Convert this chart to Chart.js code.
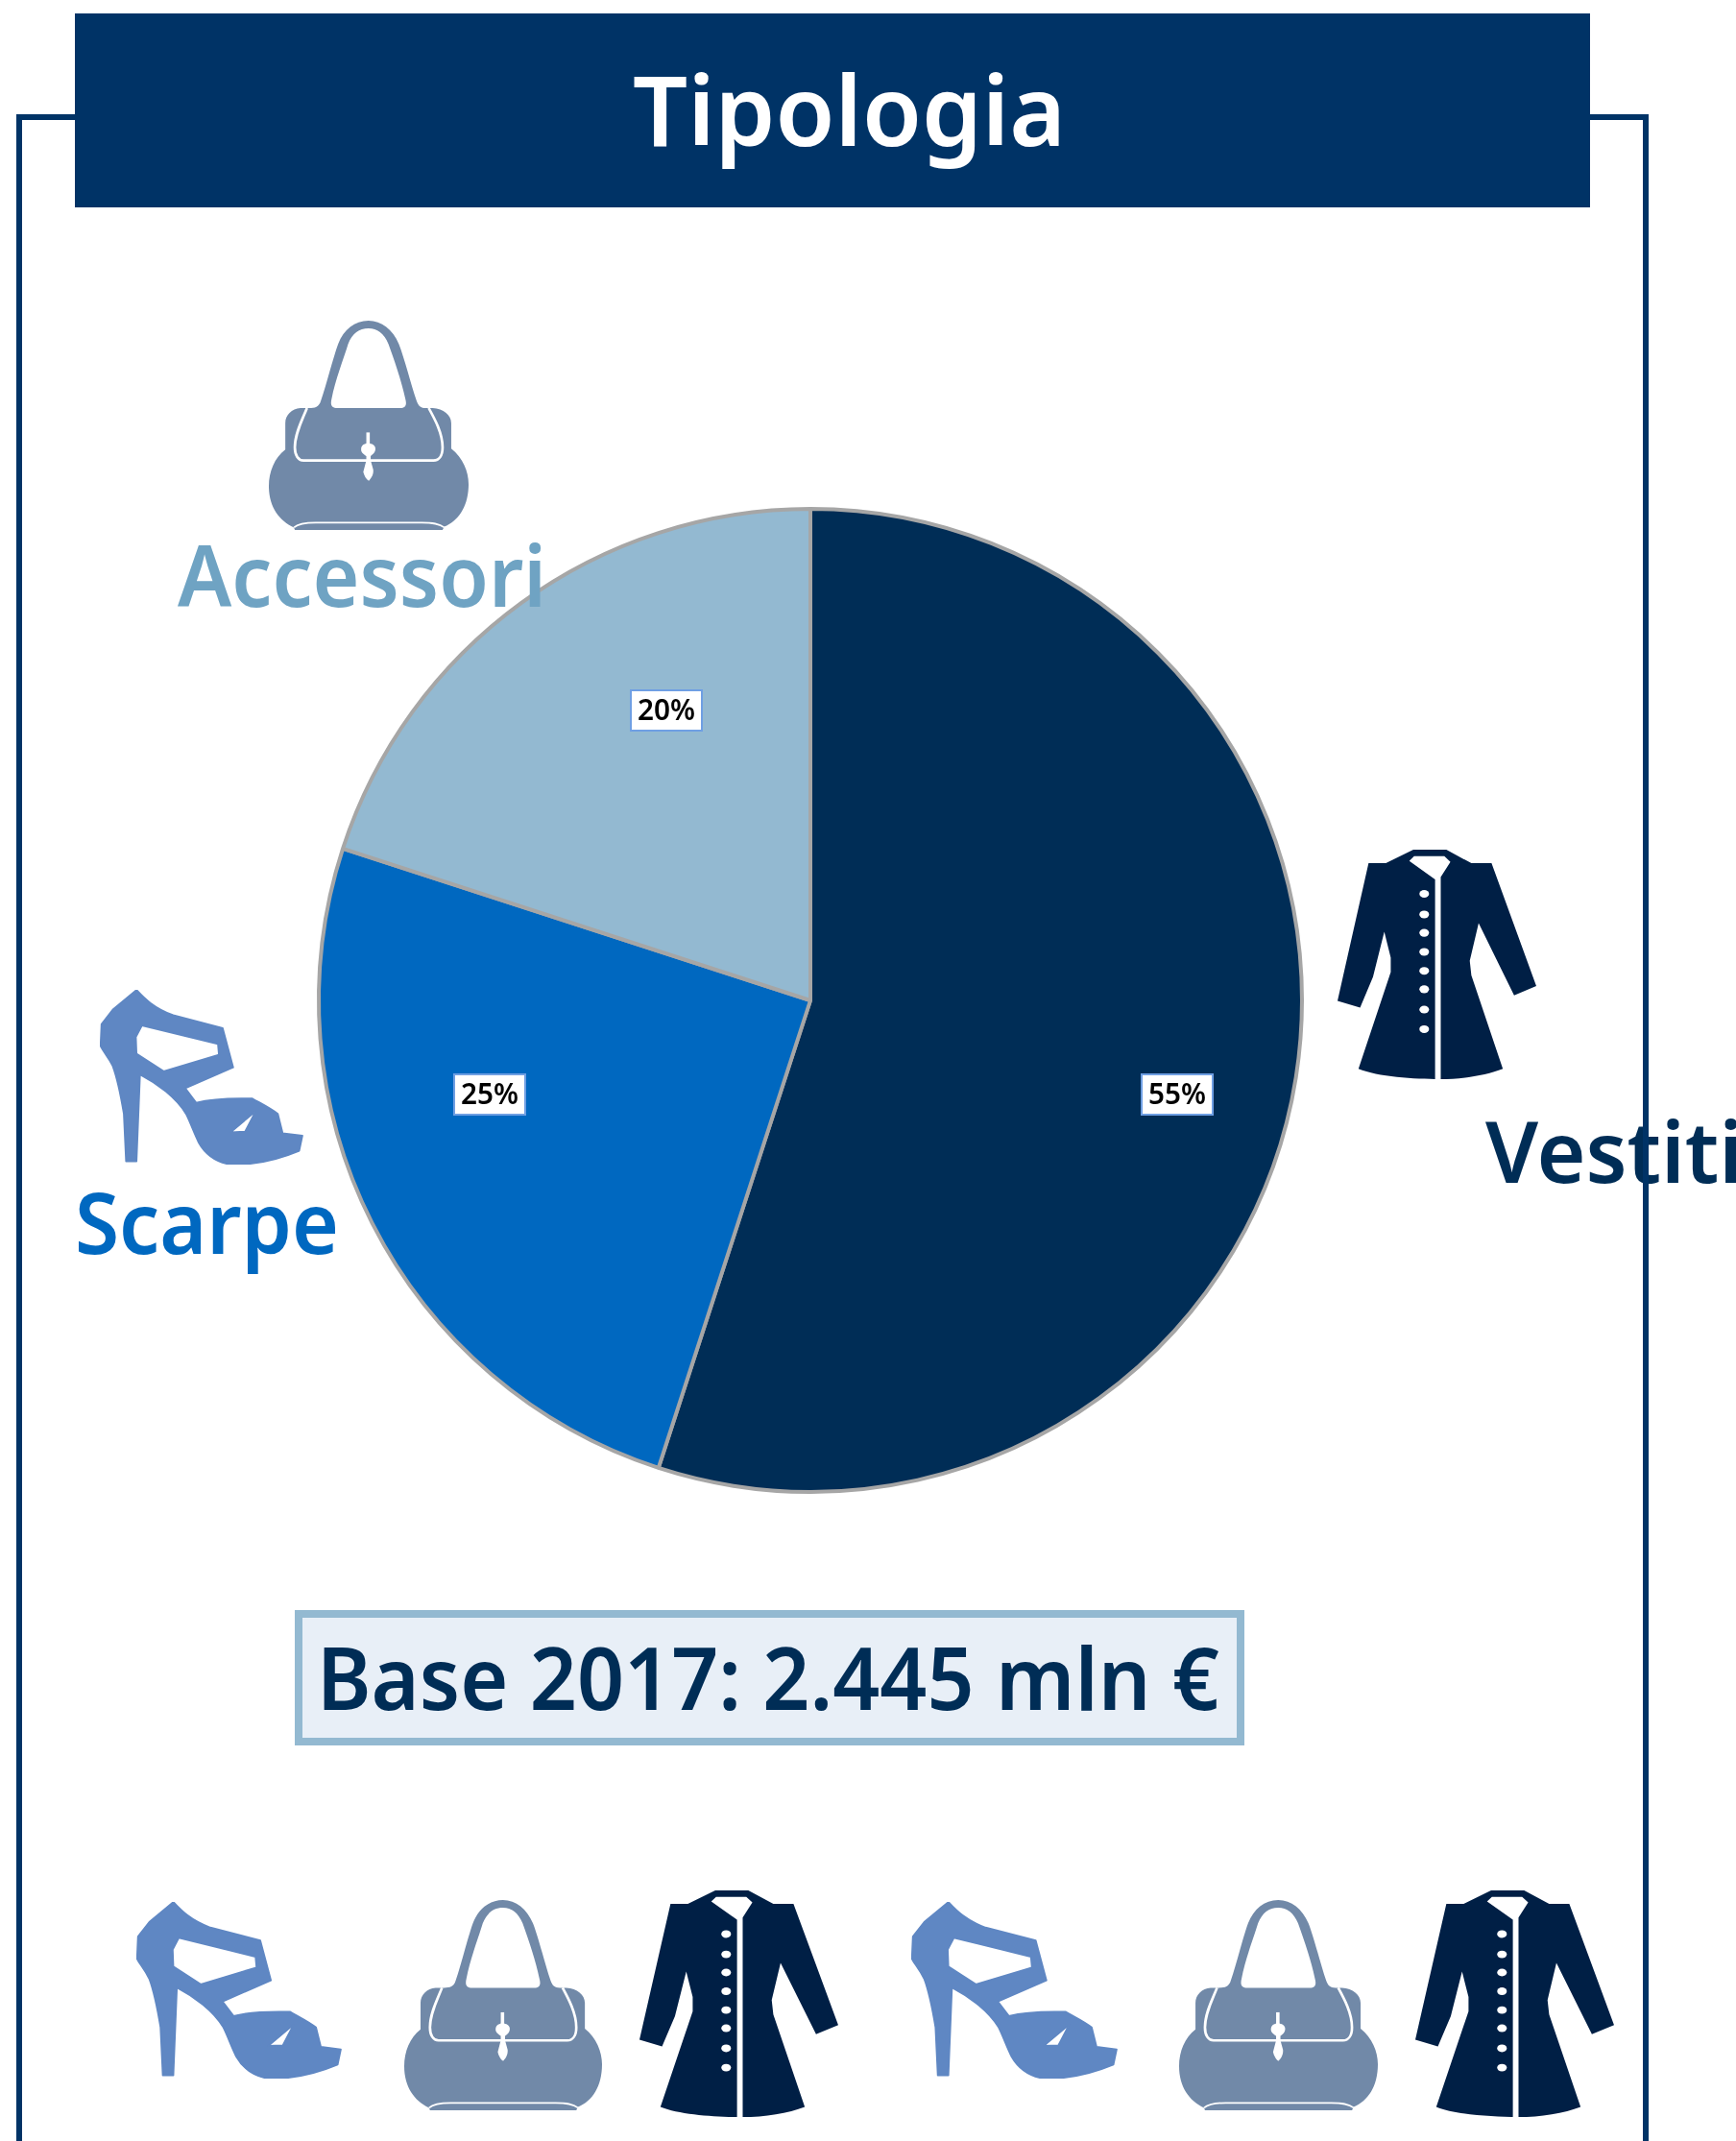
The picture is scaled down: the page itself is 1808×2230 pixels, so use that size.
<!DOCTYPE html>
<html lang="it">
<head>
<meta charset="utf-8">
<title>Tipologia</title>
<script src="https://cdn.jsdelivr.net/npm/chart.js@4"></script>
<style>
html,body{margin:0;padding:0;background:#fff;width:1808px;height:2230px;overflow:hidden}
#wrap{position:relative;width:1808px;height:2230px;overflow:hidden}
canvas,svg{position:absolute;left:0;top:0}
</style>
</head>
<body>
<div id="wrap">
<canvas id="c" width="1808" height="2230"></canvas>
<svg id="s" width="1808" height="2230" viewBox="0 0 1808 2230" xmlns="http://www.w3.org/2000/svg">
<defs>
<symbol id="bag" viewBox="452 793 461 515" preserveAspectRatio="none">
<path fill="#7189a8" fill-rule="evenodd" d="M682 793C650 793 625 815 612 850C600 885 585 950 572 990C568 1005 558 1008 545 1008L525 1008C505 1010 490 1025 490 1045L490 1110C465 1130 452 1165 452 1200C452 1250 475 1285 510 1302L512 1308L853 1308L857 1300C890 1285 913 1250 913 1195C913 1165 900 1130 873 1108L873 1045C873 1025 855 1010 830 1008L815 1008C802 1008 797 1002 793 990C780 950 765 885 752 850C738 815 712 793 682 793ZM682 812C660 812 645 825 635 850C625 885 605 940 597 985C593 1002 598 1008 610 1008L755 1008C768 1008 771 1000 767 985C758 940 740 885 728 850C718 825 702 812 682 812Z"/>
<path fill="none" stroke="#fff" stroke-width="6" d="M540 1008C530 1035 512 1070 512 1105C512 1125 520 1137 532 1137L832 1137C845 1137 853 1125 853 1105C853 1070 835 1035 821 1008"/>
<path fill="none" stroke="#fff" stroke-width="8" d="M681 1068L681 1100"/>
<path fill="#fff" d="M681 1095C672 1095 665 1100 665 1110C665 1118 672 1122 677 1126L677 1137L670 1165C672 1175 678 1185 683 1187C689 1180 694 1172 693 1160L687 1137L687 1126C692 1122 698 1118 698 1108C698 1100 690 1095 681 1095Z"/>
<path fill="none" stroke="#fff" stroke-width="4" d="M510 1302C520 1292 540 1290 560 1290L805 1290C830 1290 845 1292 857 1302"/>
</symbol>
<symbol id="shoe" viewBox="130 93 638 545" preserveAspectRatio="none">
<path fill="#5f87c3" stroke="#5f87c3" stroke-width="5" stroke-linejoin="round" fill-rule="evenodd" d="M245 93C270 120 300 150 360 172L515 212L548 335L398 400L432 445C470 435 530 430 608 432C640 450 670 465 688 480L703 540L765 548L755 595C700 618 620 640 540 638C490 630 460 605 440 570C425 540 415 510 400 480C370 430 310 385 256 357L245 628L212 628L205 480C195 420 185 370 170 330C155 300 140 285 132 268L135 200L170 155ZM262 204L500 262L503 295L330 347L245 292L243 240ZM618 472L585 535L540 537Z"/>
</symbol>
<symbol id="coat" viewBox="580 80 493 712" preserveAspectRatio="none">
<path fill="#001f45" d="M768 80L850 80L912 122L962 122L1073 503L1018 532L930 308L908 425L912 470L990 760C950 780 890 792 835 792C770 792 680 785 632 760L712 460L712 415L696 335L668 475L636 570L580 549L657 122L700 122Z"/>
<path fill="#fff" d="M770 100L845 100L860 118L836 165L836 792L822 792L822 172L758 115Z"/>
<g fill="#fff"><circle cx="795" cy="217" r="12"/><circle cx="795" cy="281" r="12"/><circle cx="795" cy="338" r="12"/><circle cx="795" cy="397" r="12"/><circle cx="795" cy="456" r="12"/><circle cx="795" cy="513" r="12"/><circle cx="795" cy="576" r="12"/><circle cx="795" cy="637" r="12"/></g>
</symbol>
</defs>
</svg>
</div>
<script>
const categories = ['Vestiti', 'Scarpe', 'Accessori'];
const shares = [55, 25, 20];
const sliceColors = ['#002d56', '#0068c0', '#93b9d1'];
const titleText = 'Tipologia';
const baseText = 'Base 2017: 2.445 mln €';

// Pie label boxes, offset from the pie centre (same order as categories)
const labelOffsets = [[382, 98], [-334, 98], [-150, -302]];

const pieLabels = {
  id: 'pieLabels',
  afterDatasetsDraw(chart) {
    const ctx = chart.ctx;
    const arc = chart.getDatasetMeta(0).data[0];
    ctx.save();
    shares.forEach((v, i) => {
      const x = arc.x + labelOffsets[i][0], y = arc.y + labelOffsets[i][1];
      const w = 74, h = 42;
      ctx.fillStyle = '#fff';
      ctx.fillRect(x - w / 2, y - h / 2, w, h);
      ctx.strokeStyle = '#6f9fe3';
      ctx.lineWidth = 2;
      ctx.strokeRect(x - w / 2, y - h / 2, w, h);
      ctx.fillStyle = '#000';
      ctx.font = '600 30px "Noto Sans"';
      ctx.textAlign = 'center';
      ctx.textBaseline = 'middle';
      ctx.fillText(v + '%', x, y + 1, 60);
    });
    ctx.restore();
  }
};

new Chart(document.getElementById('c'), {
  type: 'pie',
  data: {
    labels: categories,
    datasets: [{ data: shares, backgroundColor: sliceColors, borderColor: '#a6a6a6', borderWidth: 4 }]
  },
  options: {
    responsive: false,
    animation: false,
    layout: { padding: { left: 330, right: 450, top: 528, bottom: 674 } },
    plugins: { legend: { display: false }, tooltip: { enabled: false }, title: { display: false } }
  },
  plugins: [pieLabels]
});

const NS = 'http://www.w3.org/2000/svg';
const svg = document.getElementById('s');
function el(name, attrs, text) {
  const n = document.createElementNS(NS, name);
  for (const k in attrs) n.setAttribute(k, attrs[k]);
  if (text) n.textContent = text;
  svg.appendChild(n);
  return n;
}
function icon(id, x, y, w, h) {
  const u = el('use', { x, y, width: w, height: h });
  u.setAttribute('href', '#' + id);
}
function label(t, x, y, len, size, color, weight) {
  el('text', { x, y, textLength: len, lengthAdjust: 'spacingAndGlyphs', fill: color,
    'font-family': '"Noto Sans"', 'font-size': size, 'font-weight': weight }, t);
}

// Category captions and icons
label(categories[2], 185, 632, 384, 88, '#6fa3c3', 600);
label(categories[1], 78, 1306, 275, 88, '#0068c0', 600);
label(categories[0], 1547, 1232, 268, 88, '#002d56', 600);
icon('bag', 280, 334, 208, 218);
icon('shoe', 104, 1031, 212, 182);
icon('coat', 1393, 885, 207, 239);

// Frame, drawn with the header on top of it
el('path', { d: 'M20 2230L20 122L1714 122L1714 2230', fill: 'none', stroke: '#003366', 'stroke-width': 6 });
el('rect', { x: 78, y: 14, width: 1578, height: 202, fill: '#003366' });
el('text', { x: 659, y: 152, textLength: 451, lengthAdjust: 'spacingAndGlyphs', fill: '#fff',
  'font-family': '"Noto Sans"', 'font-size': 102, 'font-weight': 600 }, titleText);

// Base box
el('rect', { x: 311, y: 1681, width: 981, height: 133, fill: '#e8eff7', stroke: '#93b9d1', 'stroke-width': 8 });
label(baseText, 330, 1781, 940, 90, '#002d56', 600);

// Bottom row of icons
icon('shoe', 142, 1981, 214, 184);
icon('bag', 421, 1979, 206, 219);
icon('coat', 666, 1969, 207, 236);
icon('shoe', 949, 1981, 215, 184);
icon('bag', 1228, 1979, 207, 219);
icon('coat', 1474, 1969, 207, 236);
</script>
</body>
</html>
